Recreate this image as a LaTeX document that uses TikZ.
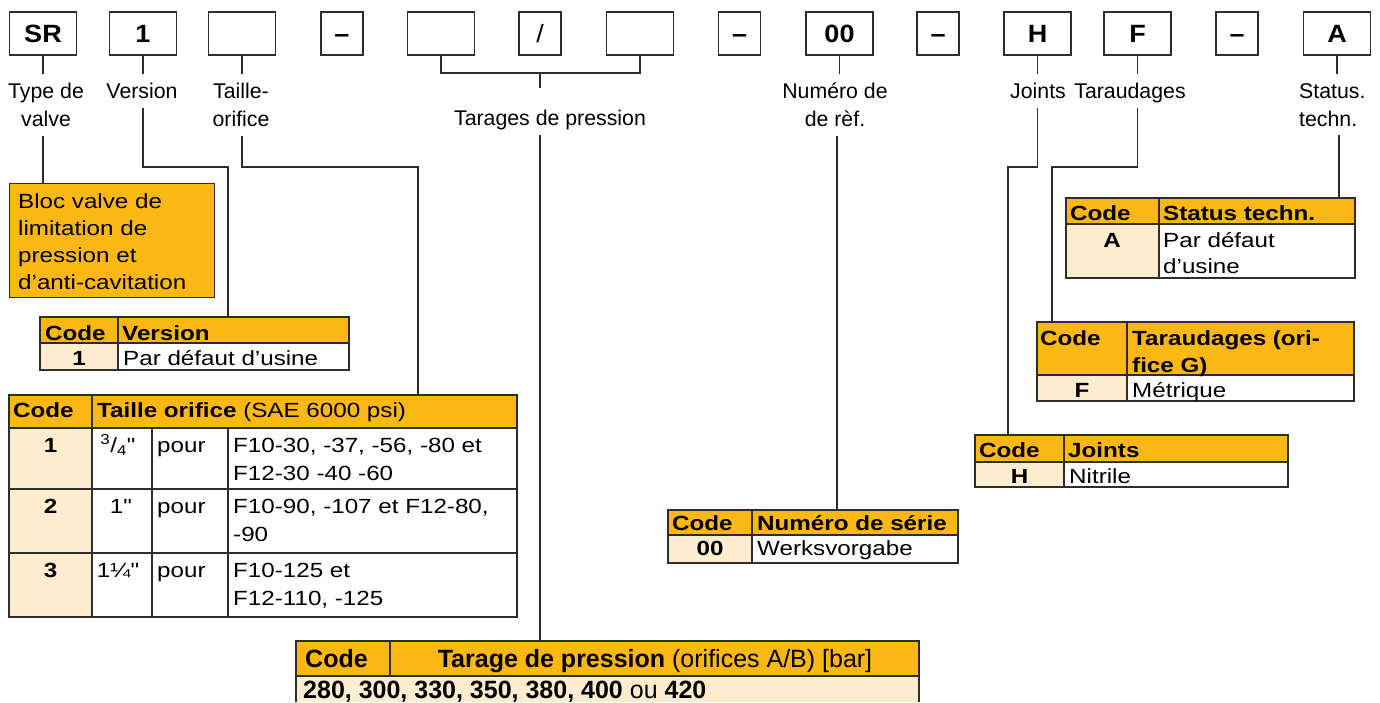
\documentclass[tikz,border=0pt]{standalone}
\usepackage{fontspec}
\setmainfont{Liberation Sans}
\newfontfamily\tabfont{Liberation Sans}[FakeStretch=1.18]
\newfontfamily\boxfont{Liberation Sans}[FakeStretch=1.08]
\definecolor{org}{RGB}{251,184,20}
\definecolor{pch}{RGB}{254,236,206}
\definecolor{ln}{RGB}{45,45,45}
\tikzset{
  cell/.style={draw=ln, line width=1.3pt},
  conn/.style={draw=ln, line width=1.4pt},
  topbox/.style={draw=ln, line width=1.4pt, fill=white, minimum height=43pt, inner sep=0pt,
    text height=18pt, text depth=0pt,
    font=\boxfont\fontsize{25}{28}\selectfont\bfseries},
  wide/.style={topbox, minimum width=67pt},
  narrow/.style={topbox, minimum width=42pt},
  lab/.style={inner xsep=1pt, inner ysep=9pt, align=center, anchor=north,
    font=\fontsize{21.3}{28}\selectfont},
  tt/.style={inner sep=0pt, anchor=base west, font=\tabfont\fontsize{20.5}{27}\selectfont},
  tb/.style={inner sep=0pt, anchor=base west, font=\tabfont\fontsize{20.5}{27}\selectfont\bfseries},
  tc/.style={tb, anchor=base},
  tar/.style={inner sep=0pt, anchor=base west, font=\fontsize{25}{28}\selectfont},
}
\begin{document}
\begin{tikzpicture}[x=1pt,y=-1pt]
\useasboundingbox (0,0) rectangle (1380,702);
% ---------- top code boxes ----------
\node[wide]   (b1)  at (43,33.5)   {SR};
\node[wide]   (b2)  at (143,33.5)  {1};
\node[wide]   (b3)  at (242,33.5)  {};
\node[narrow] (b4)  at (342,33.5)  {–};
\node[wide]   (b5)  at (441,33.5)  {};
\node[narrow] (b6)  at (540,33.5)  {\mdseries /};
\node[wide]   (b7)  at (640,33.5)  {};
\node[narrow] (b8)  at (739.5,33.5){–};
\node[wide]   (b9)  at (839.5,33.5){00};
\node[narrow] (b10) at (938,33.5)  {–};
\node[wide]   (b11) at (1037.5,33.5){H};
\node[wide]   (b12) at (1137.5,33.5){F};
\node[narrow] (b13) at (1237,33.5) {–};
\node[wide]   (b14) at (1337,33.5) {A};
% ---------- labels ----------
\node[lab] (lsr)  at (46,74)   {Type de\\valve};
\node[lab] (lver) at (142,74)  {Version};
\node[lab] (ltai) at (241,74)  {Taille-\\orifice};
\node[lab] (lnum) at (835,74)  {Numéro de\\de rèf.};
\node[lab, text depth=0pt] (ljoi) at (1038,74) {Joints};
\node[lab, text depth=0pt] (ltrd) at (1130,74) {Taraudages};
\node[lab, anchor=north west, align=left] (lsta) at (1298,74) {Status.\\techn.};
\node[inner ysep=5pt, inner xsep=1pt, anchor=base, font=\fontsize{21.3}{28}\selectfont] (ltar) at (550,125) {Tarages de pression};
% ---------- stubs ----------
\draw[conn] (b1.south) -- (b1.south |- lsr.north);
\draw[conn] (b2.south) -- (b2.south |- lver.north);
\draw[conn] (b3.south) -- (b3.south |- ltai.north);
\draw[conn] (b9.south) -- (b9.south |- lnum.north);
\draw[conn] (b11.south) -- (b11.south |- ljoi.north);
\draw[conn] (b12.south) -- (b12.south |- ltrd.north);
\draw[conn] (b14.south) -- (b14.south |- lsta.north);
\coordinate (brk) at (0,73);
\coordinate (tarstub) at (540,88);
\draw[conn] (b5.south) -- (b5.south |- brk) -- (b7.south |- brk) -- (b7.south);
\draw[conn] (b6.south |- brk) -- (tarstub);
% ---------- bloc box ----------
\node[draw=ln, line width=1.4pt, fill=org, anchor=north west, minimum width=205pt,
      minimum height=114pt, inner sep=0pt] (bloc) at (9,183) {};
\node[tt] (bl1) at (18,208) {Bloc valve de};
\node[tt] (bl2) at (18,235) {limitation de};
\node[tt] (bl3) at (18,262) {pression et};
\node[tt] (bl4) at (18,289) {d’anti-cavitation};
% ---------- attach coordinates ----------
\coordinate (bend) at (0,167);
\coordinate (vtin) at (228,317);
\coordinate (tain) at (418,395);
\coordinate (trin) at (540,641);
\coordinate (nuin) at (837,510);
\coordinate (join) at (1008,435);
\coordinate (rdin) at (1052,322);
\coordinate (stin) at (1339,198);
% ---------- connectors ----------
\draw[conn] (b1.south |- lsr.south) -- (b1.south |- bloc.north);
\draw[conn] (b2.south |- lver.south) |- (vtin |- bend) -- (vtin);
\draw[conn] (b3.south |- ltai.south) |- (tain |- bend) -- (tain);
\draw[conn] (trin |- ltar.south) -- (trin);
\draw[conn] (nuin |- lnum.south) -- (nuin);
\draw[conn] (b11.south |- ljoi.south) |- (join |- bend) -- (join);
\draw[conn] (b12.south |- ltrd.south) |- (rdin |- bend) -- (rdin);
\draw[conn] (stin |- lsta.south) -- (stin);
% ---------- Version table ----------
\fill[org] (40,317) rectangle (349,343);
\fill[pch] (40,343) rectangle (118,370);
\fill[white] (118,343) rectangle (349,370);
\draw[cell] (40,317) rectangle (349,370) (40,343) -- (349,343) (118,317) -- (118,370);
\node[tb] (v1) at (45,340) {Code};
\node[tb] (v2) at (122,340) {Version};
\node[tc] (v3) at (79,365) {1};
\node[tt] (v4) at (123,365) {Par défaut d’usine};
% ---------- Taille table ----------
\fill[org] (9,395) rectangle (517,428);
\fill[pch] (9,428) rectangle (92,617);
\fill[white] (92,428) rectangle (517,617);
\draw[cell] (9,395) rectangle (517,617)
  (9,428) -- (517,428) (9,489) -- (517,489) (9,553) -- (517,553)
  (92,395) -- (92,617) (152,428) -- (152,617) (228,428) -- (228,617);
\node[tb] (ta1) at (13,417) {Code};
\node[tt] (ta2) at (97,417) {\textbf{Taille orifice} (SAE 6000 psi)};
\node[tc] (r1a) at (50.5,452) {1};
\node[tt, anchor=base] (r1b) at (118,452) {\textsuperscript{3}/\textsubscript{4}"};
\node[tt] (r1c) at (157,452) {pour};
\node[tt] (r1d) at (233,452) {F10-30, -37, -56, -80 et};
\node[tt] (r1e) at (233,480) {F12-30 -40 -60};
\node[tc] (r2a) at (50.5,513) {2};
\node[tt, anchor=base] (r2b) at (121,513) {1"};
\node[tt] (r2c) at (157,513) {pour};
\node[tt] (r2d) at (233,513) {F10-90, -107 et F12-80,};
\node[tt] (r2e) at (233,541) {-90};
\node[tc] (r3a) at (50.5,577) {3};
\node[tt, anchor=base] (r3b) at (118,577) {1¼"};
\node[tt] (r3c) at (157,577) {pour};
\node[tt] (r3d) at (233,577) {F10-125 et};
\node[tt] (r3e) at (233,605) {F12-110, -125};
% ---------- Tarage table ----------
\fill[org] (296,641) rectangle (919,676);
\fill[pch] (296,676) rectangle (919,702);
\draw[cell] (296,702) -- (296,641) -- (919,641) -- (919,702)
  (296,676) -- (919,676) (390,641) -- (390,676);
\node[tar, font=\fontsize{25}{28}\selectfont\bfseries] (tr1) at (305,667) {Code};
\node[tar, anchor=base] (tr2) at (655,667) {\textbf{Tarage de pression} (orifices A/B) [bar]};
\node[tar] (tr3) at (303,698) {\textbf{280, 300, 330, 350, 380, 400} ou \textbf{420}};
% ---------- Numero table ----------
\fill[org] (668,510) rectangle (958,535);
\fill[pch] (668,535) rectangle (752,563);
\fill[white] (752,535) rectangle (958,563);
\draw[cell] (668,510) rectangle (958,563) (668,535) -- (958,535) (752,510) -- (752,563);
\node[tb] (n1) at (672,530) {Code};
\node[tb] (n2) at (757,530) {Numéro de série};
\node[tc] (n3) at (710,555) {00};
\node[tt] (n4) at (757,555) {Werksvorgabe};
% ---------- Joints table ----------
\fill[org] (975,435) rectangle (1288,462);
\fill[pch] (975,462) rectangle (1064,487);
\fill[white] (1064,462) rectangle (1288,487);
\draw[cell] (975,435) rectangle (1288,487) (975,462) -- (1288,462) (1064,435) -- (1064,487);
\node[tb] (j1) at (979,457) {Code};
\node[tb] (j2) at (1068,457) {Joints};
\node[tc] (j3) at (1019.5,483) {H};
\node[tt] (j4) at (1069,483) {Nitrile};
% ---------- Taraudages table ----------
\fill[org] (1037,322) rectangle (1354,375);
\fill[pch] (1037,375) rectangle (1127,401);
\fill[white] (1127,375) rectangle (1354,401);
\draw[cell] (1037,322) rectangle (1354,401) (1037,375) -- (1354,375) (1127,322) -- (1127,401);
\node[tb] (d1) at (1040,345) {Code};
\node[tb] (d2) at (1132,345) {Taraudages (ori-};
\node[tb] (d3) at (1132,372) {fice G)};
\node[tc] (d4) at (1082,397) {F};
\node[tt] (d5) at (1132,397) {Métrique};
% ---------- Status table ----------
\fill[org] (1066,198) rectangle (1355,224);
\fill[pch] (1066,224) rectangle (1159,278);
\fill[white] (1159,224) rectangle (1355,278);
\draw[cell] (1066,198) rectangle (1355,278) (1066,224) -- (1355,224) (1159,198) -- (1159,278);
\node[tb] (s1) at (1070,220) {Code};
\node[tb] (s2) at (1163,220) {Status techn.};
\node[tc] (s3) at (1112,247) {A};
\node[tt] (s4) at (1163,247) {Par défaut};
\node[tt] (s5) at (1163,273) {d’usine};
\end{tikzpicture}
\end{document}
